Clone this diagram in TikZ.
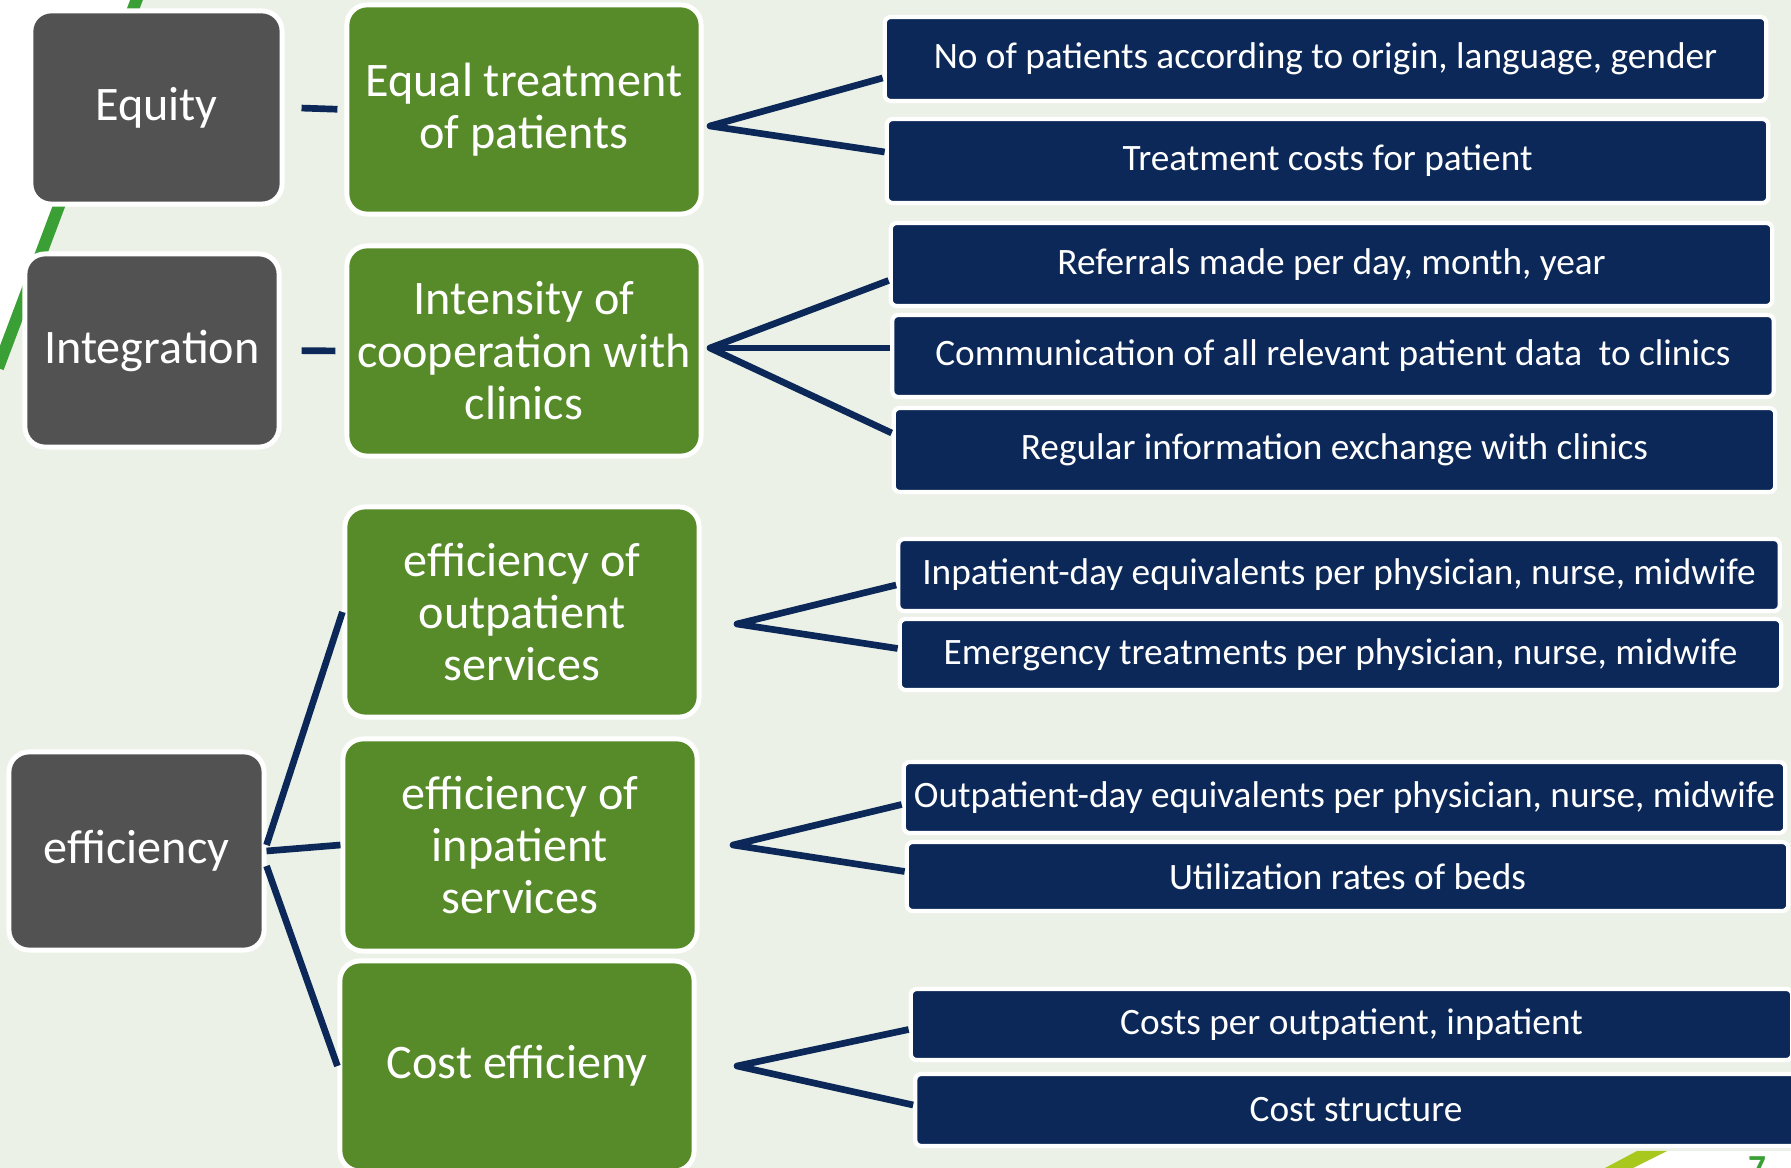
\documentclass[tikz,border=0pt]{standalone}
\usepackage{fontspec}
\setmainfont{Carlito}
\usepackage{xcolor}
\usetikzlibrary{calc}
\definecolor{dimgray}{RGB}{82,82,82}
\definecolor{aimgreen}{RGB}{87,138,41}
\definecolor{kpinavy}{RGB}{11,40,88}
\definecolor{slidebg}{RGB}{236,241,231}
\definecolor{slidegreen}{RGB}{58,160,53}
\definecolor{slidelime}{RGB}{168,200,30}

\begin{document}
\begin{tikzpicture}[x=0.01cm,y=-0.01cm,
    dimbox/.style={draw=white,line width=1.4pt,fill=dimgray,rounded corners=0.2cm,text=white,font=\fontsize{13.7}{16}\selectfont,inner sep=0pt},
    aimbox/.style={draw=white,line width=1.4pt,fill=aimgreen,rounded corners=0.2cm,text=white,font=\fontsize{13.7}{14.9}\selectfont,align=center,minimum width=3.54cm,inner sep=0pt},
    kpibox/.style={draw=white,line width=1.2pt,fill=kpinavy,rounded corners=0.06cm,text=white,font=\fontsize{10.6}{12.5}\selectfont,minimum width=8.81cm,inner sep=0pt},
    link/.style={draw=kpinavy,line width=1.9pt,line join=round}]
    \useasboundingbox (0,0) rectangle (1791,1168);
    \clip (0,0) rectangle (1791,1168);

    % slide background
    \fill[white] (0,0) rectangle (1791,1168);
    \fill[slidebg] (136,0) -- (1791,0) -- (1791,1151) -- (1652,1151) -- (1620,1168) -- (0,1168) -- (0,365) -- cycle;
    \draw[slidegreen,line width=3.4pt] (138,-4) -- (-2,368);
    \fill[slidelime] (1637,1151) -- (1667,1151) -- (1633,1168) -- (1605,1168) -- cycle;
    \node[text=slidegreen,font=\bfseries\fontsize{10}{12}\selectfont,anchor=north,inner sep=0pt] (pagenum) at (1757,1156) {7};

    % dimensions
    \node[dimbox,minimum width=2.51cm,minimum height=1.93cm] (equity) at (156.5,107.5) {Equity};
    \node[dimbox,minimum width=2.54cm,minimum height=1.93cm] (integr) at (152,350.5) {Integration};
    \node[dimbox,minimum width=2.55cm,minimum height=1.98cm] (effic) at (136.5,851) {efficiency};

    % aims
    \node[aimbox,minimum height=2.09cm] (equal) at (524,109.5) {Equal treatment\\of patients};
    \node[aimbox,minimum height=2.10cm] (intens) at (524,351) {Intensity of\\cooperation with\\clinics};
    \node[aimbox,minimum height=2.10cm] (outpat) at (522,612) {efficiency of\\outpatient\\services};
    \node[aimbox,minimum height=2.12cm] (inpat) at (520,845) {efficiency of\\inpatient\\services};
    \node[aimbox,minimum height=2.10cm] (costeff) at (517,1066) {Cost efficieny};

    % indicators
    \node[kpibox,minimum height=0.84cm] (kpiA) at (1325.5,59) {No of patients according to origin, language, gender};
    \node[kpibox,minimum height=0.84cm] (kpiB) at (1327.5,161) {Treatment costs for patient};
    \node[kpibox,minimum height=0.83cm] (kpiC) at (1331.5,264.5) {Referrals made per day, month, year};
    \node[kpibox,minimum height=0.82cm] (kpiD) at (1333,356) {Communication of all relevant patient data\ \ to clinics};
    \node[kpibox,minimum height=0.84cm] (kpiE) at (1334.5,450) {Regular information exchange with clinics};
    \node[kpibox,minimum height=0.72cm] (kpiF) at (1339,575) {Inpatient-day equivalents per physician, nurse, midwife};
    \node[kpibox,minimum height=0.71cm] (kpiG) at (1340.5,654.5) {Emergency treatments per physician, nurse, midwife};
    \node[kpibox,minimum height=0.71cm] (kpiH) at (1344.5,797.5) {Outpatient-day equivalents per physician, nurse, midwife};
    \node[kpibox,minimum height=0.69cm] (kpiI) at (1347.5,876.5) {Utilization rates of beds};
    \node[kpibox,minimum height=0.71cm] (kpiJ) at (1351.5,1024.5) {Costs per outpatient, inpatient};
    \node[kpibox,minimum height=0.72cm] (kpiK) at (1356,1110) {Cost structure};

    % fan points
    \coordinate (forkA) at (710,126);
    \coordinate (forkB) at (710,348);
    \coordinate (forkC) at (737,624);
    \coordinate (forkD) at (733,845);
    \coordinate (forkE) at (737,1066);

    % connectors
    \draw[link,shorten <=0.17cm,shorten >=0.07cm] (equity.east) -- (equal.west);
    \draw[link,shorten <=0.2cm,shorten >=0.09cm] (integr.east) -- (intens.west);
    \draw[link] ($(effic.east)+(0,-6)$) -- (outpat.west);
    \draw[link] (effic.east) -- (inpat.west);
    \draw[link] ($(effic.east)+(0,15)$) -- (costeff.west);

    \draw[link] ($(kpiA.west)+(0,19)$) -- (forkA) -- ($(kpiB.west)+(0,-9)$);
    \draw[link] ($(kpiC.west)+(0,16)$) -- (forkB) -- ($(kpiE.west)+(0,-17)$);
    \draw[link] (forkB) -- ($(kpiD.west)+(0,-8)$);
    \draw[link] ($(kpiF.west)+(0,10)$) -- (forkC) -- ($(kpiG.west)+(0,-6)$);
    \draw[link] ($(kpiH.west)+(0,7)$) -- (forkD) -- ($(kpiI.west)+(0,-5)$);
    \draw[link] ($(kpiJ.west)+(0,5)$) -- (forkE) -- ($(kpiK.west)+(0,-5)$);
\end{tikzpicture}
\end{document}
